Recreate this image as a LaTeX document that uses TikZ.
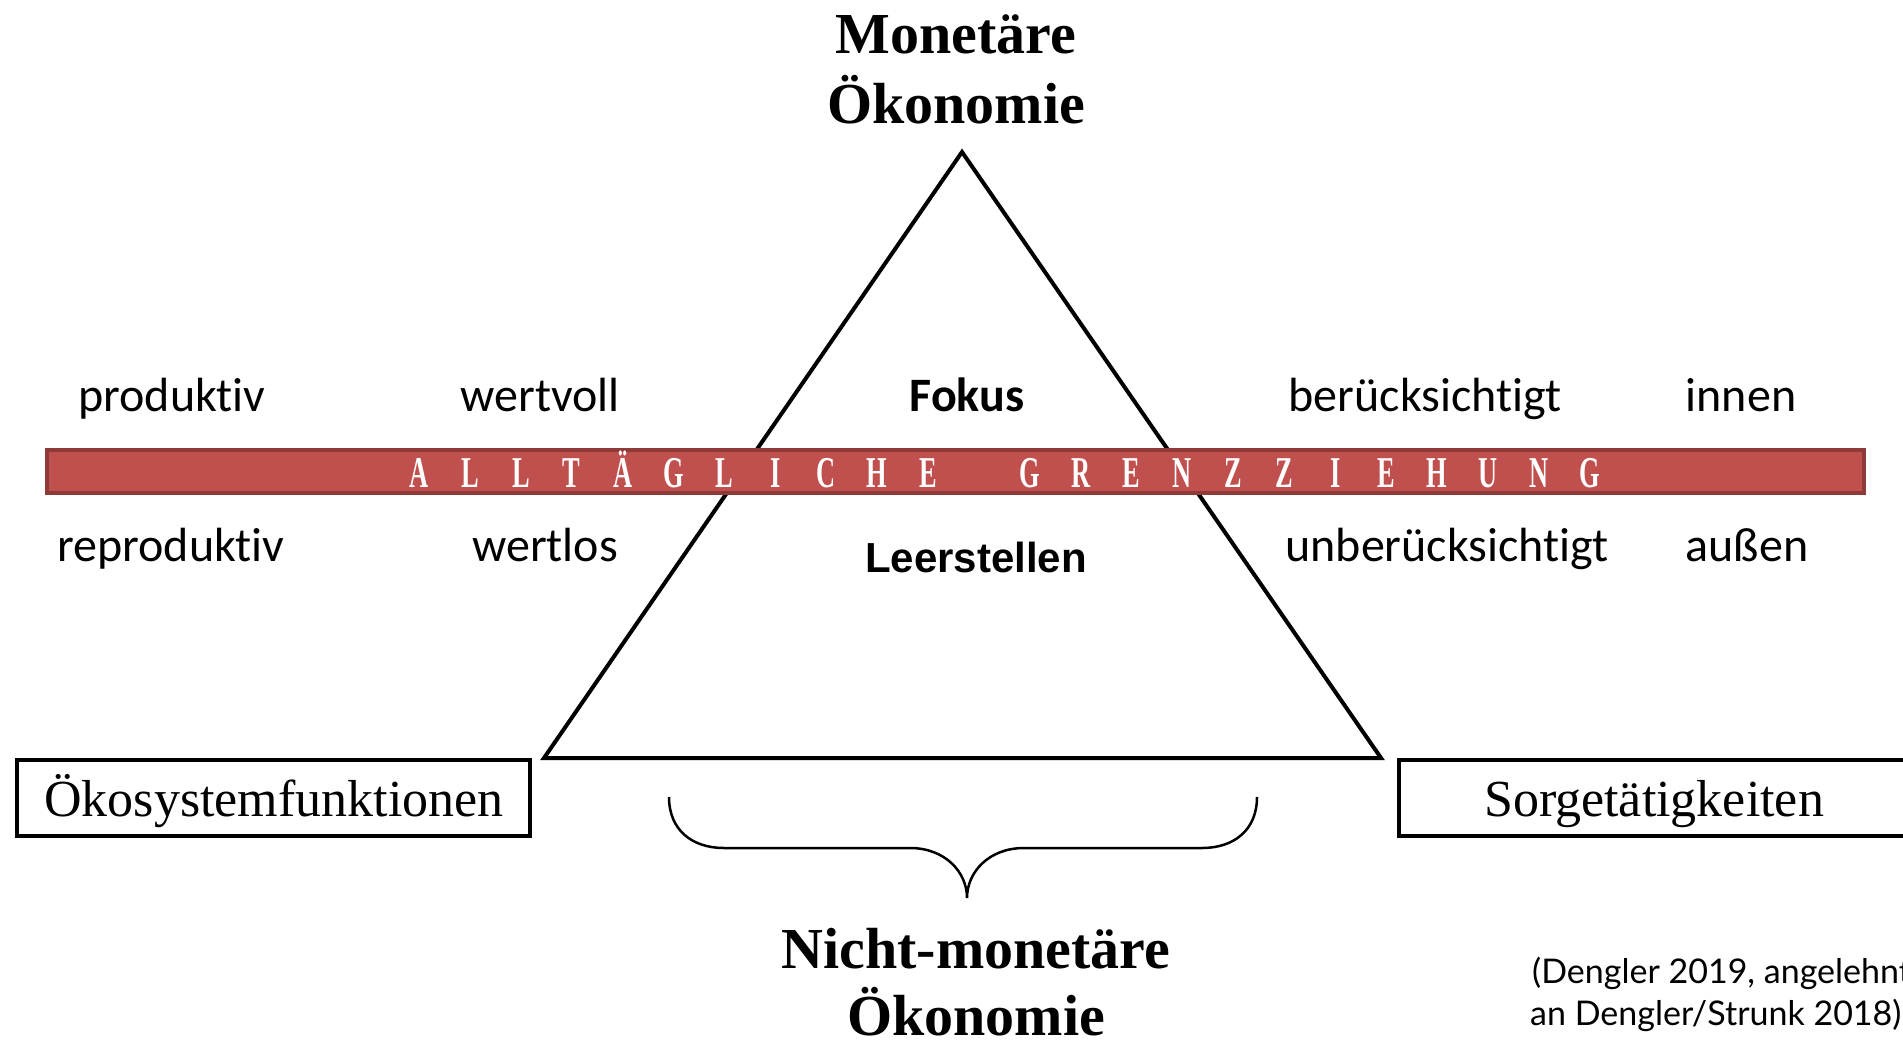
\documentclass[tikz,border=0pt]{standalone}
\usepackage{fontspec}
\setmainfont{Liberation Serif}
\newfontfamily\calib[Ligatures={NoCommon}]{Carlito}
\newfontfamily\arialf{Liberation Sans}
\newfontfamily\citef[Ligatures={NoCommon}]{Lato}
\definecolor{barred}{HTML}{C0504D}
\definecolor{barborder}{HTML}{8E3A38}
\tikzset{
  titletext/.style={font=\fontsize{58}{68}\selectfont\bfseries, anchor=base, inner sep=0pt},
  labeltext/.style={font=\calib\fontsize{48}{58}\selectfont, anchor=base, inner sep=0pt},
  barletter/.style={font=\fontsize{44}{52}\selectfont\bfseries, text=white, anchor=base, inner sep=0pt},
  boxnode/.style={draw=black, line width=3.5pt, fill=white},
  boxtext/.style={font=\fontsize{52}{60}\selectfont, anchor=base, inner sep=0pt},
}
\begin{document}
\begin{tikzpicture}[x=1pt,y=-1pt]
\useasboundingbox (0,0) rectangle (1903,1041);
% titles
\node[titletext] (mon1) at (956,53) {Monetäre};
\node[titletext] (mon2) at (956,123) {Ökonomie};
\node[titletext] (nm1) at (976,968) {Nicht-monetäre};
\node[titletext] (nm2) at (976,1035) {Ökonomie};
% triangle
\coordinate (apex) at (962,152);
\coordinate (bl) at (544,758);
\coordinate (br) at (1381,758);
\draw[line width=4pt, line join=miter] (apex) -- (br) -- (bl) -- cycle;
% bar
\draw[fill=barred, draw=barborder, line width=3.5pt] (47,450) rectangle (1864,493);
\foreach \l [count=\i from 0] in {A,L,L,T,Ä,G,L,I,C,H,E}
  \node[barletter] at (419+\i*50.9,487) {\scalebox{0.6}[1]{\l}};
\foreach \l [count=\i from 12] in {G,R,E,N,Z,Z,I,E,H,U,N,G}
  \node[barletter] at (419+\i*50.9,487) {\scalebox{0.6}[1]{\l}};
% labels row 1
\node[labeltext] (produktiv) at (172,411) {produktiv};
\node[labeltext] (wertvoll) at (540,411) {wertvoll};
\node[labeltext, font=\calib\fontsize{48}{58}\selectfont\bfseries] (fokus) at (967,411) {Fokus};
\node[labeltext] (beruecks) at (1425,411) {berücksichtigt};
\node[labeltext] (innen) at (1741,411) {innen};
% labels row 2
\node[labeltext] (reproduktiv) at (171,561) {reproduktiv};
\node[labeltext] (wertlos) at (545,561) {wertlos};
\node[labeltext, font=\arialf\fontsize{42}{50}\selectfont\bfseries] (leer) at (976,572) {Leerstellen};
\node[labeltext] (unberuecks) at (1447,561) {unberücksichtigt};
\node[labeltext] (aussen) at (1747,561) {außen};
% boxes
\draw[boxnode] (17,760) rectangle (530,836);
\node[boxtext] (oeko) at (274,816) {Ökosystemfunktionen};
\draw[boxnode] (1399,760) rectangle (1925,836);
\node[boxtext] (sorge) at (1654,816) {Sorgetätigkeiten};
% brace
\draw[line width=2.5pt] (669,797) .. controls (669,830) and (692,848) .. (724,848) -- (910,848)
  .. controls (945,848) and (967,872) .. (967,898)
  .. controls (967,872) and (989,848) .. (1024,848) -- (1202,848)
  .. controls (1234,848) and (1257,830) .. (1257,797);
% citation
\node[font=\citef\fontsize{34}{40}\selectfont, anchor=base west, inner sep=0pt] (cite1) at (1532,983) {(Dengler 2019, angelehnt};
\node[font=\citef\fontsize{34}{40}\selectfont, anchor=base west, inner sep=0pt] (cite2) at (1530,1025) {an Dengler/Strunk 2018)};
\end{tikzpicture}
\end{document}
